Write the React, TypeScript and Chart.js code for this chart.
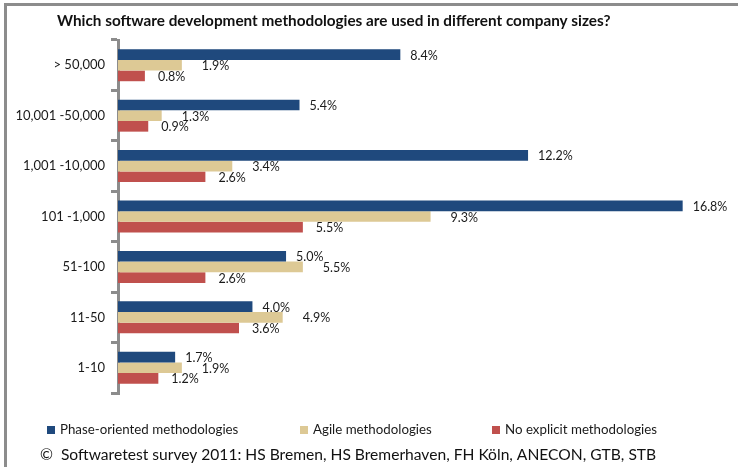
import React, { useEffect, useRef } from "react";
import { Chart, registerables } from "chart.js";

Chart.register(...registerables);

const categories = ["> 50,000", "10,001 -50,000", "1,001 -10,000", "101 -1,000", "51-100", "11-50", "1-10"];
const phaseOriented = [8.4, 5.4, 12.2, 16.8, 5.0, 4.0, 1.7];
const agile = [1.9, 1.3, 3.4, 9.3, 5.5, 4.9, 1.9];
const noExplicit = [0.8, 0.9, 2.6, 5.5, 2.6, 3.6, 1.2];
const seriesNames = ["Phase-oriented methodologies", "Agile methodologies", "No explicit methodologies"];
const seriesColors = ["#1f497d", "#ddc995", "#c0504d"];
const titleText = "Which software development methodologies are used in different company sizes?";
const footerText = "\u00A9  Softwaretest survey 2011: HS Bremen, HS Bremerhaven, FH K\u00F6ln, ANECON, GTB, STB";

const FONT = "Lato, 'Liberation Sans', sans-serif";

const decorPlugin = {
  id: "decor",
  beforeDraw(chart: any) {
    const ctx = chart.ctx;
    ctx.save();
    ctx.fillStyle = "#ffffff";
    ctx.fillRect(0, 0, chart.width, chart.height);
    ctx.fillStyle = "#8c8c8c";
    ctx.fillRect(4, 3, 734, 3);
    ctx.fillRect(4, 3, 3, 464);
    ctx.restore();
  },
  afterDatasetsDraw(chart: any) {
    const ctx = chart.ctx;
    const offsets = [10, 20, 13];
    ctx.save();
    ctx.font = `12.5px ${FONT}`;
    ctx.fillStyle = "#1a1a1a";
    ctx.textBaseline = "middle";
    ctx.textAlign = "left";
    chart.data.datasets.forEach((ds: any, di: number) => {
      const meta = chart.getDatasetMeta(di);
      meta.data.forEach((el: any, i: number) => {
        const v = ds.data[i];
        ctx.fillText(v.toFixed(1) + "%", el.x + offsets[di], el.y + 1);
      });
    });
    ctx.restore();
  },
  afterDraw(chart: any) {
    const ctx = chart.ctx;
    ctx.save();
    ctx.font = `bold 15.3px ${FONT}`;
    ctx.fillStyle = "#111111";
    ctx.textBaseline = "middle";
    ctx.textAlign = "left";
    ctx.fillText(titleText, 57, 21);
    const xs = [47, 300, 492];
    ctx.font = `13.3px ${FONT}`;
    chart.data.datasets.forEach((ds: any, di: number) => {
      ctx.fillStyle = ds.backgroundColor;
      ctx.fillRect(xs[di], 426, 8, 8);
      ctx.fillStyle = "#1a1a1a";
      ctx.fillText(ds.label, xs[di] + 13, 430);
    });
    ctx.font = `15.6px ${FONT}`;
    ctx.fillStyle = "#111111";
    ctx.fillText(footerText, 40, 455);
    ctx.restore();
  },
};

export default function App() {
  const ref = useRef<HTMLCanvasElement | null>(null);
  useEffect(() => {
    if (!ref.current) return;
    const chart = new Chart(ref.current, {
      type: "bar",
      data: {
        labels: categories,
        datasets: [
          { label: seriesNames[0], data: phaseOriented, backgroundColor: seriesColors[0] },
          { label: seriesNames[1], data: agile, backgroundColor: seriesColors[1] },
          { label: seriesNames[2], data: noExplicit, backgroundColor: seriesColors[2] },
        ],
      },
      options: {
        indexAxis: "y",
        responsive: false,
        animation: false,
        events: [],
        datasets: { bar: { categoryPercentage: 0.635, barPercentage: 1.0, borderWidth: 0 } },
        layout: { padding: { top: 40, bottom: 74, right: 15, left: 0 } },
        plugins: { legend: { display: false }, title: { display: false }, tooltip: { enabled: false } },
        scales: {
          x: { display: false, min: 0, max: 18 },
          y: {
            afterFit: (scale: any) => {
              scale.width = 118;
            },
            grid: {
              offset: true,
              drawOnChartArea: false,
              drawTicks: true,
              tickLength: 7,
              color: "#8c8c8c",
              lineWidth: 3,
            },
            border: { display: true, color: "#8c8c8c", width: 3 },
            ticks: { font: { family: FONT, size: 13 }, color: "#1a1a1a", padding: 6 },
          },
        },
      },
      plugins: [decorPlugin],
    } as any);
    return () => chart.destroy();
  }, []);
  return (
    <div style={{ position: "fixed", left: 0, top: 0, width: 738, height: 467, background: "#fff" }}>
      <canvas ref={ref} width={738} height={467} style={{ width: 738, height: 467, display: "block" }} />
    </div>
  );
}
